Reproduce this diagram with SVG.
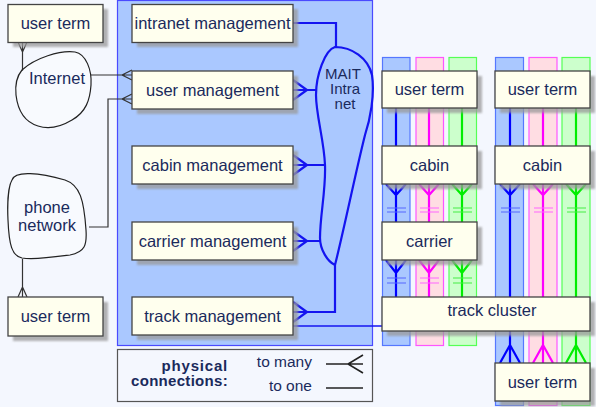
<svg xmlns="http://www.w3.org/2000/svg" width="596" height="407" viewBox="0 0 596 407">
<defs>
<style>
.t{font-family:"Liberation Sans",Arial,sans-serif;font-size:16.5px;fill:#1a2a5c;text-anchor:middle}
.m{font-size:15px}
.box{fill:#ffffee;stroke:#444;stroke-width:1.3}
.sh{fill:#9a9a9a;opacity:.75}
.dk{stroke:#333;stroke-width:1.2;fill:none}
.bl{stroke:#1414f0;stroke-width:2.2;fill:none}
.cloud{fill:#ffffff;fill-opacity:.35;stroke:#222;stroke-width:1.2}
.cb{fill:#aac8ff;stroke:#5577ff;stroke-width:1.2}
.cp{fill:#ffdde3;stroke:#ff55ff;stroke-width:1.2}
.cg{fill:#ccffcc;stroke:#55ff55;stroke-width:1.2}
.lb{stroke:#0000ff;stroke-width:2.2;fill:none}
.lp{stroke:#ff00ff;stroke-width:2.2;fill:none}
.lg{stroke:#00ee00;stroke-width:2.2;fill:none}
.bb{stroke:#5566ff;stroke-width:1.2}
.bp{stroke:#ff66ff;stroke-width:1.2}
.bgn{stroke:#44ee44;stroke-width:1.2}
</style>
<filter id="blur" x="-10%" y="-10%" width="120%" height="120%"><feGaussianBlur stdDeviation="0.8"/></filter>
</defs>
<rect x="0" y="0" width="596" height="407" fill="#f4f7fe"/>
<!-- panel -->
<rect id="panel" x="117.5" y="0.5" width="255" height="345" fill="#aac8ff" stroke="#4a4aff" stroke-width="1.2"/>
<!-- columns -->
<g id="columns">
<rect class="cb" x="382.5" y="57.5" width="27.5" height="288"/>
<rect class="cp" x="416" y="57.5" width="27.5" height="288"/>
<rect class="cg" x="449" y="57.5" width="27.5" height="288"/>
<rect class="cb" x="495.5" y="57.5" width="28" height="348"/>
<rect class="cp" x="529" y="57.5" width="28" height="348"/>
<rect class="cg" x="562" y="57.5" width="28" height="348"/>
</g>
<!-- connectors -->
<g id="connectors">
<path class="dk" d="M22.5 42 V71 M18 42 L22.5 52 L27 42"/>
<path class="dk" d="M22.5 259 V297 M18 297 L22.5 287 L27 297"/>
<path class="dk" d="M91 75 H132 M132 70 L122 75 L132 80"/>
<path class="dk" d="M89 227 H108 V99 H132 M132 94 L122 99 L132 104"/>
<path class="bl" d="M293 23 H336 V47"/>
<path class="bl" d="M293 90 H317 M293 80 L307 90 L293 100"/>
<path class="bl" d="M293 165 H325 M293 155 L307 165 L293 175"/>
<path class="bl" d="M293 241 H321 M293 231 L307 241 L293 251"/>
<path class="bl" d="M293 312 H335 V265 M293 302 L307 312 L293 322"/>
<path d="M293 326 H383" stroke="#1414f0" stroke-width="1.6" fill="none"/>
<path class="lb" d="M396 108 V146 M396 184 V222 M386 184 L396 195 L406 184 M396 260 V297 M386 260 L396 273 L406 260"/>
<path class="lp" d="M429 108 V146 M429 184 V222 M419 184 L429 195 L439 184 M429 260 V297 M419 260 L429 273 L439 260"/>
<path class="lg" d="M462 108 V146 M462 184 V222 M452 184 L462 195 L472 184 M462 260 V297 M452 260 L462 273 L472 260"/>
<path class="bb" d="M387 208 H406 M387 212 H406 M387 278 H406 M387 283 H406"/>
<path class="bp" d="M420 208 H439 M420 212 H439 M420 278 H439 M420 283 H439"/>
<path class="bgn" d="M453 208 H472 M453 212 H472 M453 278 H472 M453 283 H472"/>
<path class="lb" d="M510 108 V146 M510 184 V297 M500 184 L510 195 L520 184 M510 331 V363 M500 363 L510 345 L520 363"/>
<path class="lp" d="M543 108 V146 M543 184 V297 M533 184 L543 195 L553 184 M543 331 V363 M533 363 L543 345 L553 363"/>
<path class="lg" d="M576 108 V146 M576 184 V297 M566 184 L576 195 L586 184 M576 331 V363 M566 363 L576 345 L586 363"/>
<path class="bb" d="M501 208 H520 M501 212 H520"/>
<path class="bp" d="M534 208 H553 M534 212 H553"/>
<path class="bgn" d="M567 208 H586 M567 212 H586"/>
</g>
<!-- clouds -->
<g id="internet">
<path class="cloud" d="M22 70 C35 58 60 50 75 52 C86 54 92 70 91 85 C90 100 86 112 72 120 C62 126 50 130 38 126 C25 122 18 112 16 95 C15 85 17 76 22 70 Z"/>
<text class="t" x="57" y="84">Internet</text>
</g>
<g id="phone-network">
<path class="cloud" d="M12 180 C15 170 40 173 65 180 C80 185 84 200 86 230 C87 245 85 252 70 255 C55 257 35 260 22 258 C12 256 9 245 8 220 C7 200 9 185 12 180 Z"/>
<text class="t" x="47" y="213">phone</text>
<text class="t" x="47" y="231">network</text>
</g>
<g id="mait-intranet">
<path d="M335 47 C352 47 368 58 372 75 C375 95 370 120 365 135 C355 175 345 225 335 265 C328 262 320 250 320 238 C320 215 326 190 325 165 C324 140 316 115 316 95 C316 75 325 50 335 47 Z" fill="none" stroke="#1414f0" stroke-width="2.2"/>
<text class="t m" x="343" y="79">MAIT</text>
<text class="t m" x="345" y="94">Intra</text>
<text class="t m" x="345" y="109">net</text>
</g>
<!-- boxes -->
<g id="user-term-1"><rect class="sh" x="13" y="9" width="95" height="38" filter="url(#blur)"/><rect class="box" x="8" y="4.5" width="95" height="38"/><text class="t" x="55.5" y="29">user term</text></g>
<g id="user-term-2"><rect class="sh" x="13" y="302" width="95" height="39" filter="url(#blur)"/><rect class="box" x="8" y="297" width="95" height="39"/><text class="t" x="55.5" y="322">user term</text></g>
<g id="intranet-management"><rect class="sh" x="137" y="9" width="161" height="38" filter="url(#blur)"/><rect class="box" x="132" y="4.5" width="161" height="38"/><text class="t" x="212.5" y="29">intranet management</text></g>
<g id="user-management"><rect class="sh" x="137" y="76" width="161" height="38" filter="url(#blur)"/><rect class="box" x="132" y="71" width="161" height="38"/><text class="t" x="212.5" y="96">user management</text></g>
<g id="cabin-management"><rect class="sh" x="137" y="151" width="161" height="38" filter="url(#blur)"/><rect class="box" x="132" y="146" width="161" height="38"/><text class="t" x="212.5" y="171">cabin management</text></g>
<g id="carrier-management"><rect class="sh" x="137" y="227" width="161" height="38" filter="url(#blur)"/><rect class="box" x="132" y="222" width="161" height="38"/><text class="t" x="212.5" y="247">carrier management</text></g>
<g id="track-management"><rect class="sh" x="137" y="302" width="161" height="38" filter="url(#blur)"/><rect class="box" x="132" y="297" width="161" height="38"/><text class="t" x="212.5" y="322">track management</text></g>
<g id="user-term-3"><rect class="sh" x="387" y="76" width="95" height="37" filter="url(#blur)"/><rect class="box" x="382" y="71" width="95" height="37"/><text class="t" x="429.5" y="95">user term</text></g>
<g id="cabin-1"><rect class="sh" x="387" y="151" width="95" height="38" filter="url(#blur)"/><rect class="box" x="382" y="146" width="95" height="38"/><text class="t" x="429.5" y="171">cabin</text></g>
<g id="carrier"><rect class="sh" x="387" y="227" width="95" height="38" filter="url(#blur)"/><rect class="box" x="382" y="222" width="95" height="38"/><text class="t" x="429.5" y="247">carrier</text></g>
<g id="user-term-4"><rect class="sh" x="500" y="76" width="95" height="37" filter="url(#blur)"/><rect class="box" x="495" y="71" width="95" height="37"/><text class="t" x="542.5" y="95">user term</text></g>
<g id="cabin-2"><rect class="sh" x="500" y="151" width="95" height="38" filter="url(#blur)"/><rect class="box" x="495" y="146" width="95" height="38"/><text class="t" x="542.5" y="171">cabin</text></g>
<g id="track-cluster"><rect class="sh" x="387" y="302" width="208" height="34" filter="url(#blur)"/><rect class="box" x="382" y="297" width="208" height="34"/><text class="t" x="492" y="316">track cluster</text></g>
<g id="user-term-5"><rect class="sh" x="500" y="368" width="95" height="38" filter="url(#blur)"/><rect class="box" x="495" y="363" width="95" height="38"/><text class="t" x="542.5" y="388">user term</text></g>
<!-- legend -->
<g id="legend">
<rect x="117.5" y="349.5" width="255" height="52" fill="#f4f7fe" stroke="#555" stroke-width="1.2"/>
<text class="t" x="228" y="371" style="text-anchor:end;font-weight:bold;font-size:15px;letter-spacing:.8px">physical</text>
<text class="t" x="228" y="386" style="text-anchor:end;font-weight:bold;font-size:15px;letter-spacing:.3px">connections:</text>
<text class="t" x="312" y="367" style="text-anchor:end;font-size:15.5px">to many</text>
<text class="t" x="312" y="391" style="text-anchor:end;font-size:15.5px">to one</text>
<path d="M326 364 H363 M363 355 L348 364 L363 373" stroke="#222" stroke-width="1.6" fill="none"/>
<path d="M326 388 H363" stroke="#222" stroke-width="1.6" fill="none"/>
</g>
</svg>
